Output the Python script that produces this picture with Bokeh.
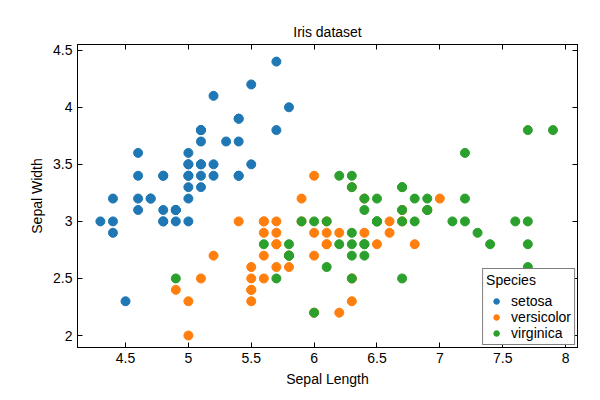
from bokeh.plotting import figure
from bokeh.models import LinearAxis, Range1d, Title, FixedTicker
from bokeh.embed import file_html
from bokeh.resources import INLINE

setosa_len = [5.1, 4.9, 4.7, 4.6, 5.0, 5.4, 4.6, 5.0, 4.4, 4.9, 5.4, 4.8, 4.8, 4.3, 5.8, 5.7, 5.4, 5.1, 5.7, 5.1,
              5.4, 5.1, 4.6, 5.1, 4.8, 5.0, 5.0, 5.2, 5.2, 4.7, 4.8, 5.4, 5.2, 5.5, 4.9, 5.0, 5.5, 4.9, 4.4, 5.1,
              5.0, 4.5, 4.4, 5.0, 5.1, 4.8, 5.1, 4.6, 5.3, 5.0]
setosa_wid = [3.5, 3.0, 3.2, 3.1, 3.6, 3.9, 3.4, 3.4, 2.9, 3.1, 3.7, 3.4, 3.0, 3.0, 4.0, 4.4, 3.9, 3.5, 3.8, 3.8,
              3.4, 3.7, 3.6, 3.3, 3.4, 3.0, 3.4, 3.5, 3.4, 3.2, 3.1, 3.4, 4.1, 4.2, 3.1, 3.2, 3.5, 3.1, 3.0, 3.4,
              3.5, 2.3, 3.2, 3.5, 3.8, 3.0, 3.8, 3.2, 3.7, 3.3]
versicolor_len = [7.0, 6.4, 6.9, 5.5, 6.5, 5.7, 6.3, 4.9, 6.6, 5.2, 5.0, 5.9, 6.0, 6.1, 5.6, 6.7, 5.6, 5.8, 6.2, 5.6,
                  5.9, 6.1, 6.3, 6.1, 6.4, 6.6, 6.8, 6.7, 6.0, 5.7, 5.5, 5.5, 5.8, 6.0, 5.4, 6.0, 6.7, 6.3, 5.6, 5.5,
                  5.5, 6.1, 5.8, 5.0, 5.6, 5.7, 5.7, 6.2, 5.1, 5.7]
versicolor_wid = [3.2, 3.2, 3.1, 2.3, 2.8, 2.8, 3.3, 2.4, 2.9, 2.7, 2.0, 3.0, 2.2, 2.9, 2.9, 3.1, 3.0, 2.7, 2.2, 2.5,
                  3.2, 2.8, 2.5, 2.8, 2.9, 3.0, 2.8, 3.0, 2.9, 2.6, 2.4, 2.4, 2.7, 2.7, 3.0, 3.4, 3.1, 2.3, 3.0, 2.5,
                  2.6, 3.0, 2.6, 2.3, 2.7, 3.0, 2.9, 2.9, 2.5, 2.8]
virginica_len = [6.3, 5.8, 7.1, 6.3, 6.5, 7.6, 4.9, 7.3, 6.7, 7.2, 6.5, 6.4, 6.8, 5.7, 5.8, 6.4, 6.5, 7.7, 7.7, 6.0,
                 6.9, 5.6, 7.7, 6.3, 6.7, 7.2, 6.2, 6.1, 6.4, 7.2, 7.4, 7.9, 6.4, 6.3, 6.1, 7.7, 6.3, 6.4, 6.0, 6.9,
                 6.7, 6.9, 5.8, 6.8, 6.7, 6.7, 6.3, 6.5, 6.2, 5.9]
virginica_wid = [3.3, 2.7, 3.0, 2.9, 3.0, 3.0, 2.5, 2.9, 2.5, 3.6, 3.2, 2.7, 3.0, 2.5, 2.8, 3.2, 3.0, 3.8, 2.6, 2.2,
                 3.2, 2.8, 2.8, 2.7, 3.3, 3.2, 2.8, 3.0, 2.8, 3.0, 2.8, 3.8, 2.8, 2.8, 2.6, 3.0, 3.4, 3.1, 3.0, 3.1,
                 3.1, 3.1, 2.7, 3.2, 3.3, 3.0, 2.5, 3.0, 3.4, 3.0]

x_ticks = [4.5, 5, 5.5, 6, 6.5, 7, 7.5, 8]
y_ticks = [2, 2.5, 3, 3.5, 4, 4.5]

FONT = "Liberation Sans"

p = figure(width=592, height=392, output_backend="svg", toolbar_location=None,
           x_range=Range1d(4.118, 8.095), y_range=Range1d(1.895, 4.55),
           min_border_left=77, min_border_right=15, min_border_top=44, min_border_bottom=45)
p.title = Title(text="Iris dataset", align="center", text_font=FONT, text_font_size="14px",
                text_font_style="normal", text_color="black")
p.grid.visible = False
p.outline_line_color = "black"

for ax in (p.xaxis[0], p.yaxis[0]):
    ax.major_tick_in = 5
    ax.major_tick_out = 0
    ax.minor_tick_line_color = None
    ax.major_tick_line_color = "black"
    ax.axis_line_color = "black"
    ax.major_label_text_font = FONT
    ax.major_label_text_font_size = "14px"
    ax.major_label_text_color = "black"
    ax.axis_label_text_font = FONT
    ax.axis_label_text_font_size = "14px"
    ax.axis_label_text_font_style = "normal"
    ax.axis_label_text_color = "black"
p.xaxis[0].ticker = FixedTicker(ticks=x_ticks)
p.yaxis[0].ticker = FixedTicker(ticks=y_ticks)
p.xaxis[0].axis_label = "Sepal Length"
p.yaxis[0].axis_label = "Sepal Width"

top = LinearAxis(ticker=FixedTicker(ticks=x_ticks), major_label_text_font_size="0px",
                 major_tick_in=5, major_tick_out=0, minor_tick_line_color=None,
                 major_tick_line_color="black")
right = LinearAxis(ticker=FixedTicker(ticks=y_ticks), major_label_text_font_size="0px",
                   major_tick_in=5, major_tick_out=0, minor_tick_line_color=None,
                   major_tick_line_color="black")
p.add_layout(top, "above")
p.add_layout(right, "right")

p.scatter(setosa_len, setosa_wid, size=9, color="#1f77b4", legend_label="setosa")
p.scatter(versicolor_len, versicolor_wid, size=9, color="#ff7f0e", legend_label="versicolor")
p.scatter(virginica_len, virginica_wid, size=9, color="#2ca02c", legend_label="virginica")

p.legend.location = "bottom_right"
p.legend.title = "Species"
p.legend.title_text_font = FONT
p.legend.title_text_font_size = "14px"
p.legend.title_text_font_style = "normal"
p.legend.title_text_color = "black"
p.legend.label_text_font = FONT
p.legend.label_text_font_size = "14px"
p.legend.label_text_color = "black"
p.legend.border_line_color = "black"
p.legend.margin = 2
p.legend.padding = 3
p.legend.spacing = 0
p.legend.label_height = 14
p.legend.glyph_height = 14

open("out.html", "w").write(file_html(p, INLINE))
